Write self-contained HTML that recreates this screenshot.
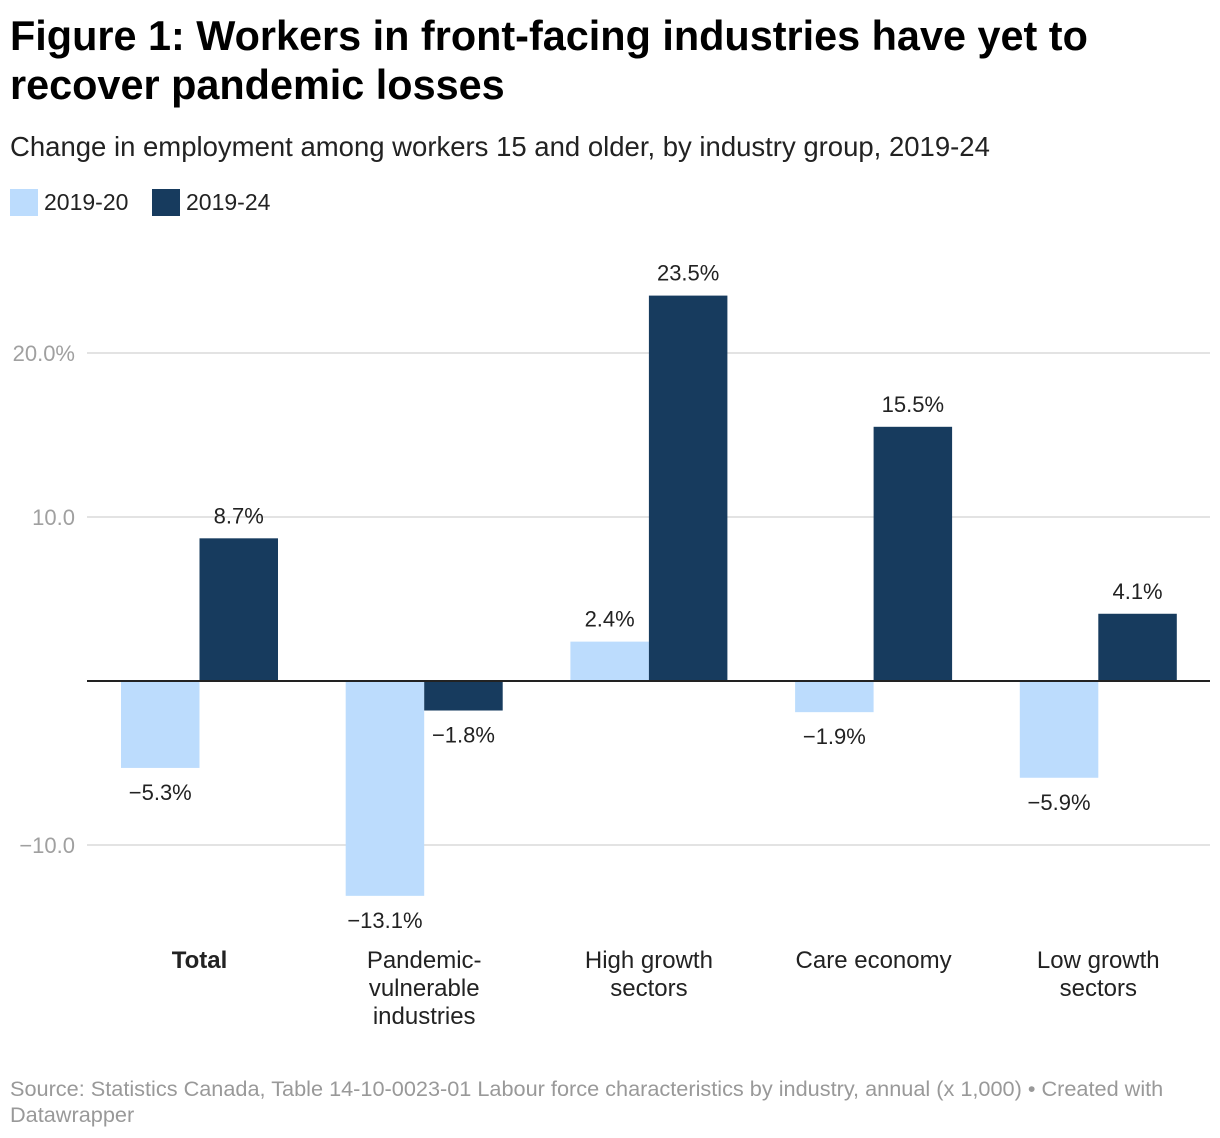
<!DOCTYPE html>
<html><head><meta charset="utf-8"><style>
body{margin:0;background:#fff;font-family:"Liberation Sans",sans-serif;}
svg{display:block}
</style></head><body>
<svg width="1220" height="1138">
<text x="10" y="50" font-size="41.4" font-weight="bold" fill="#000">Figure 1: Workers in front-facing industries have yet to</text>
<text x="10" y="99" font-size="41.4" font-weight="bold" fill="#000">recover pandemic losses</text>
<text x="10" y="156" font-size="27.5" fill="#222">Change in employment among workers 15 and older, by industry group, 2019-24</text>
<rect x="10" y="189" width="28" height="27" fill="#bcdcfd"/>
<text x="44" y="210" font-size="23" fill="#222">2019-20</text>
<rect x="152" y="189" width="28" height="27" fill="#173b5e"/>
<text x="186" y="210" font-size="23" fill="#222">2019-24</text>
<g id="plot"></g>
<text x="10" y="1096" font-size="21.7" fill="#999">Source: Statistics Canada, Table 14-10-0023-01 Labour force characteristics by industry, annual (x 1,000) • Created with</text>
<text x="10" y="1122" font-size="21.7" fill="#999">Datawrapper</text>
</svg>
<script>
const categories=[["Total"],["Pandemic-","vulnerable","industries"],["High growth","sectors"],["Care economy"],["Low growth","sectors"]];
const series2020=[-5.3,-13.1,2.4,-1.9,-5.9];
const series2024=[8.7,-1.8,23.5,15.5,4.1];
const ticks=[20,10,-10];
const tickLabels=["20.0%","10.0","−10.0"];
const NS="http://www.w3.org/2000/svg";
const g=document.getElementById('plot');
const y=v=>681-v*16.4;
const gx=i=>121+i*224.7;
const bw=78.5;
function mk(t,a){const e=document.createElementNS(NS,t);for(const k in a)e.setAttribute(k,a[k]);g.appendChild(e);return e;}
ticks.forEach((t,i)=>{
 const l=mk('line',{x1:87,x2:1210,y1:y(t),y2:y(t),stroke:'#e3e3e3','stroke-width':2});
 
 
 const tx=mk('text',{x:75,y:y(t)+8,'font-size':22,fill:'#a0a0a0','text-anchor':'end'});
 tx.textContent=tickLabels[i];
 
 
});
const fmt=v=>(v<0?'−':'')+Math.abs(v).toFixed(1)+'%';
function bar(i,v,off,col,name){
 const x=gx(i)+off;
 const r=mk('rect',{x:x,y:Math.min(y(v),y(0)),width:bw,height:Math.abs(y(v)-y(0)),fill:col});
 
 
 const ly=v>=0?y(v)-15:y(v)+32;
 const t=mk('text',{x:x+bw/2,y:ly,'font-size':22,fill:'#222','text-anchor':'middle'});
 t.textContent=fmt(v);
 
 
}
categories.forEach((c,i)=>{
 bar(i,series2020[i],0,'#bcdcfd','bar-2019-20');
 bar(i,series2024[i],bw,'#173b5e','bar-2019-24');
 c.forEach((line,j)=>{
  const t=mk('text',{x:gx(i)+bw,y:968+j*28,'font-size':24,fill:'#222','text-anchor':'middle','font-weight':i==0?'bold':'normal'});
  t.textContent=line;
  
  
 });
});
const z=mk('line',{x1:87,x2:1210,y1:y(0),y2:y(0),stroke:'#222','stroke-width':2});


</script>
</body></html>
